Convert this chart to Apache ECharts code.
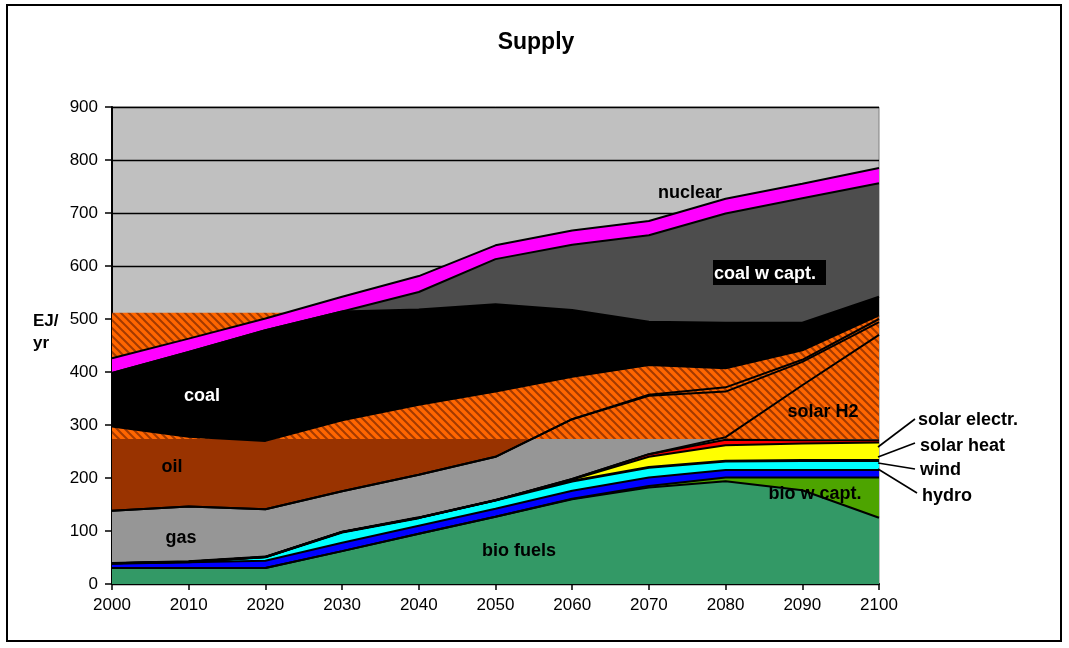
<!DOCTYPE html>
<html lang="en">
<head>
	<meta charset="UTF-8">
	<title>Supply</title>
	<style>
		*{margin: 0; padding: 0; box-sizing: border-box;}
		body{ background: #fff; }
		#view{ width: 1069px; height: 648px; }
	</style>
</head>
<body>
	<div id="view"></div>
	<script src="https://cdn.jsdelivr.net/npm/echarts@6/dist/echarts.min.js"></script>
	<script>
	// EJ/yr per source, stacked bottom to top
	const years       = ['2000','2010','2020','2030','2040','2050','2060','2070','2080','2090','2100'];
	const bioFuels    = [30, 30, 30, 62, 95, 127, 160, 182, 194, 177, 125];
	const bioWCapt    = [0, 0, 0, 0, 0, 0, 1, 3, 7, 24, 76];
	const hydro       = [9, 11, 14, 16, 15, 15, 15, 16, 14, 14, 14];
	const wind        = [0, 1, 7, 20, 15, 16, 18, 19, 17, 18, 18];
	const solarHeat   = [0, 0, 0, 0, 0, 0, 3, 20, 30, 32, 34];
	const solarElectr = [0, 0, 0, 0, 0, 0, 1, 5, 10, 6, 4];
	const solarH2     = [0, 0, 0, 0, 0, 0, 0, 0, 5, 104, 199];
	const gas         = [99, 104, 90, 77, 81, 82, 113, 110, 86, 44, 24];
	const gasExtra    = [0, 0, 0, 0, 0, 0, 0, 2, 8, 4, 6];
	const oil         = [159, 132, 129, 134, 132, 123, 80, 56, 36, 18, 7];
	const coal        = [101, 160, 209, 205, 180, 165, 126, 82, 86, 52, 35];
	const coalWCapt   = [0, 0, 0, 0, 33, 85, 123, 163, 206, 235, 214];
	const nuclear     = [28, 25, 22, 28, 30, 26, 27, 27, 28, 27, 29];

	const bandLow = 273, bandHigh = 512;   // hatched band behind the stack
	const yMax = 900;

	const W = 1069, H = 648;
	const gTop = 107, gLeft = 112, gRight = W - 879, gBottom = H - 584;
	const gH = H - gTop - gBottom;
	const font = '"Liberation Sans", Arial, sans-serif';

	function hatch(){
		const c = document.createElement('canvas');
		c.width = 8; c.height = 8;
		const g = c.getContext('2d');
		g.fillStyle = '#FF6600'; g.fillRect(0, 0, 8, 8);
		g.strokeStyle = '#A33A00'; g.lineWidth = 2;
		g.beginPath();
		g.moveTo(-4, 4); g.lineTo(4, 12);
		g.moveTo(0, 0); g.lineTo(8, 8);
		g.moveTo(4, -4); g.lineTo(12, 4);
		g.stroke();
		return c;
	}
	const hatchFill = {image: hatch(), repeat: 'repeat'};

	// solid below the band, see-through inside it
	const cut = (gTop + gH * (1 - bandLow / yMax)) / H;
	function lowerOnly(color){
		return new echarts.graphic.LinearGradient(0, 0, 0, H, [
			{offset: 0, color: 'rgba(0,0,0,0)'},
			{offset: cut, color: 'rgba(0,0,0,0)'},
			{offset: cut, color: color},
			{offset: 1, color: color}
		], true);
	}

	function s(name, data, fill, lw){
		return {
			name: name, type: 'line', stack: 'all', data: data,
			symbol: 'none', smooth: false, z: 2,
			lineStyle: {color: '#000', width: lw || 2},
			areaStyle: {color: fill, opacity: 1}
		};
	}

	const series = [
		s('bio fuels', bioFuels, '#339966'),
		s('bio w capt.', bioWCapt, '#4DA400'),
		s('hydro', hydro, '#0000FF'),
		s('wind', wind, '#00FFFF', 2.8),
		s('solar heat', solarHeat, '#FFFF00'),
		s('solar electr.', solarElectr, '#FF0000'),
		s('solar H2', solarH2, 'rgba(0,0,0,0)'),
		s('gas', gas, lowerOnly('#969696')),
		s('gas extra', gasExtra, lowerOnly('#969696')),
		s('oil', oil, lowerOnly('#993300')),
		s('coal', coal, '#000000'),
		s('coal w capt.', coalWCapt, '#4D4D4D'),
		s('nuclear', nuclear, '#FF00FF')
	];
	series[0].markArea = {
		silent: true,
		label: {show: false},
		itemStyle: {color: hatchFill},
		data: [[{yAxis: bandLow}, {yAxis: bandHigh}]]
	};

	function label(text, x, y, opt){
		return {type: 'text', z: 100, style: Object.assign({
			text: text, x: x, y: y, fill: '#000',
			font: 'bold 18px ' + font, align: 'center', verticalAlign: 'middle'
		}, opt || {})};
	}
	function leader(x1, y1, x2, y2){
		return {type: 'line', z: 100, shape: {x1: x1, y1: y1, x2: x2, y2: y2},
			style: {stroke: '#000', lineWidth: 1.6}};
	}

	const option = {
		animation: false,
		backgroundColor: '#fff',
		grid: {left: gLeft, right: gRight, top: gTop, bottom: gBottom,
			show: true, backgroundColor: '#C0C0C0', borderColor: '#808080', borderWidth: 1},
		xAxis: {
			type: 'category', data: years, boundaryGap: false,
			axisLine: {lineStyle: {color: '#000', width: 2}},
			axisTick: {show: true, inside: false, length: 6, alignWithLabel: true, lineStyle: {color: '#000', width: 1.5}},
			axisLabel: {color: '#000', fontSize: 17, fontFamily: font, margin: 13},
			splitLine: {show: false}
		},
		yAxis: {
			type: 'value', min: 0, max: yMax, interval: 100,
			axisLine: {show: true, lineStyle: {color: '#000', width: 2}},
			axisTick: {show: true, length: 7, lineStyle: {color: '#000', width: 1.5}},
			axisLabel: {color: '#000', fontSize: 17, fontFamily: font, margin: 14},
			splitLine: {show: true, lineStyle: {color: '#000', width: 1.3}}
		},
		series: series,
		graphic: [
			{type: 'rect', z: 100, shape: {x: 7, y: 5, width: 1054, height: 636},
				style: {fill: 'none', stroke: '#000', lineWidth: 2}},
			label('Supply', 536, 43, {font: 'bold 23px ' + font}),
			label('EJ/', 33, 321, {font: 'bold 17px ' + font, align: 'left'}),
			label('yr', 33, 343, {font: 'bold 17px ' + font, align: 'left'}),
			label('nuclear', 690, 193),
			{type: 'rect', z: 99, shape: {x: 713, y: 260, width: 113, height: 25}, style: {fill: '#000'}},
			label('coal w capt.', 714, 274, {fill: '#fff', align: 'left'}),
			label('coal', 202, 396, {fill: '#fff'}),
			label('oil', 172, 467),
			label('gas', 181, 538),
			label('bio fuels', 519, 551),
			label('solar H2', 823, 412),
			label('bio w capt.', 815, 494),
			label('solar electr.', 918, 420, {align: 'left'}),
			label('solar heat', 920, 446, {align: 'left'}),
			label('wind', 920, 470, {align: 'left'}),
			label('hydro', 922, 496, {align: 'left'}),
			leader(878, 447, 915, 419),
			leader(878, 457, 915, 443),
			leader(878, 463, 915, 469),
			leader(878, 469, 917, 493)
		]
	};

	const myChart = echarts.init(document.getElementById('view'), null, {renderer: 'canvas'});
	myChart.setOption(option);
	</script>
</body>
</html>
